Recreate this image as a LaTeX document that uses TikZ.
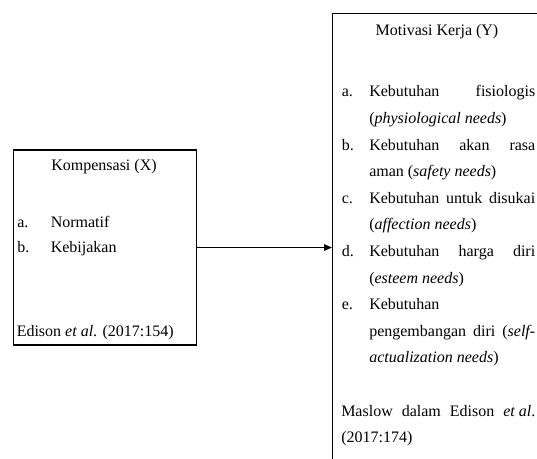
\documentclass[tikz,border=0pt]{standalone}
\usepackage{fontspec}
\setmainfont{Liberation Serif}
\usetikzlibrary{arrows.meta}
\begin{document}
\begin{tikzpicture}[x=0.75pt,y=-0.75pt,
  box/.style={draw=black, line width=0.8pt, anchor=north west, inner sep=0pt},
  txt/.style={anchor=base west, inner sep=0pt, font=\fontsize{12}{14}\selectfont},
  ttl/.style={anchor=base, inner sep=0pt, font=\fontsize{12}{14}\selectfont},
  conn/.style={line width=0.8pt, -{Triangle[length=6pt,width=5pt]}}]
\useasboundingbox (0,0) rectangle (537,459);
\clip (0,0) rectangle (537,459);
% boxes
\node[box, minimum width=137.6pt, minimum height=146.25pt] (L) at (12.5,149.5) {};
\node[box, minimum width=300pt, minimum height=400pt] (R) at (332,13) {};
% connector
\draw[conn] (L.east) -- (L.east -| R.west);
% left box text
\node[ttl] (lt) at (104,171) {Kompensasi (X)};
\node[txt] (la) at (17,228) {a.};
\node[txt] (la1) at (50.5,228) {Normatif};
\node[txt] (lb) at (17,252.5) {b.};
\node[txt] (lb1) at (50.5,252.5) {Kebijakan};
\node[txt] (lsrc) at (16.5,337) {Edison \textit{et al}. (2017:154)};
% right box text
\node[ttl] (rt) at (437,35.5) {Motivasi Kerja (Y)};
\node[txt] (ra) at (341.5,97) {a.};
\node[txt] (ra1) at (369,97) {\hbox to 124.5pt{Kebutuhan\hfill fisiologis}};
\node[txt] (ra2) at (369,123.6) {(\textit{physiological needs})};
\node[txt] (rb) at (341.5,150.2) {b.};
\node[txt] (rb1) at (369,150.2) {\hbox to 124.5pt{Kebutuhan\hfill akan\hfill rasa}};
\node[txt] (rb2) at (369,176.8) {aman (\textit{safety needs})};
\node[txt] (rc) at (341.5,203.4) {c.};
\node[txt] (rc1) at (369,203.4) {\hbox to 124.5pt{Kebutuhan\hfill untuk\hfill disukai}};
\node[txt] (rc2) at (369,230) {(\textit{affection needs})};
\node[txt] (rd) at (341.5,256.6) {d.};
\node[txt] (rd1) at (369,256.6) {\hbox to 124.5pt{Kebutuhan\hfill harga\hfill diri}};
\node[txt] (rd2) at (369,283.2) {(\textit{esteem needs})};
\node[txt] (re) at (341.5,309.8) {e.};
\node[txt] (re1) at (369,309.8) {Kebutuhan};
\node[txt] (re2) at (369,336.4) {\hbox to 124.5pt{pengembangan\hfill diri\hfill (\textit{self-}}};
\node[txt] (re3) at (369,363) {\textit{actualization needs})};
\node[txt] (rsrc1) at (341,416.2) {\hbox to 145.5pt{Maslow\hfill dalam\hfill Edison\hfill \textit{et al}.}};
\node[txt] (rsrc2) at (341,442.8) {(2017:174)};
\end{tikzpicture}
\end{document}
